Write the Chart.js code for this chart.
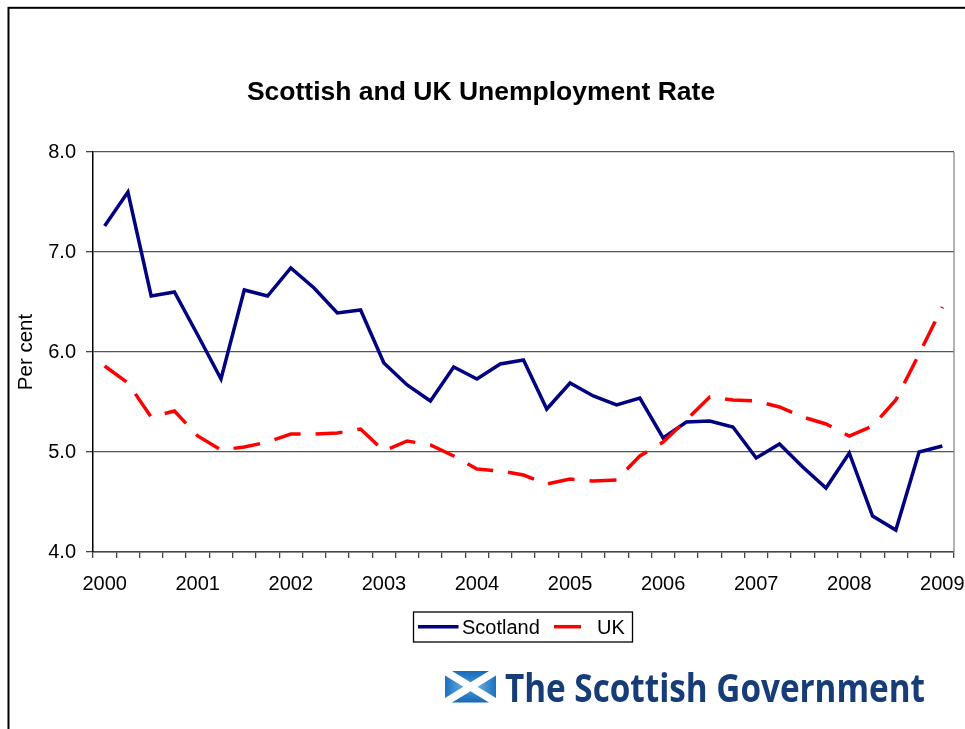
<!DOCTYPE html>
<html>
<head>
<meta charset="utf-8">
<title>Scottish and UK Unemployment Rate</title>
<script src="https://cdn.jsdelivr.net/npm/chart.js@4.4.1/dist/chart.umd.min.js"></script>
<style>
html, body { margin: 0; padding: 0; background: #fff; }
canvas { display: block; }
</style>
</head>
<body>
<canvas id="unemploymentChart" width="965" height="729"></canvas>
<script>
/* ==========================================
DATA (quarterly, 2000 Q1 - 2009 Q1)
========================================== */

const years = [
"2000", "2001", "2002", "2003", "2004",
"2005", "2006", "2007", "2008", "2009"
];

const quarters = [];
years.forEach(y => {
for (let q = 1; q <= 4; q++) {
if (y === "2009" && q > 1) break;
quarters.push(y + " Q" + q);
}
});

const scotland = [
7.26, 7.60, 6.56, 6.60, 6.17, 5.73, 6.62, 6.56,
6.84, 6.64, 6.39, 6.42, 5.89, 5.67, 5.51, 5.85,
5.73, 5.88, 5.92, 5.43, 5.69, 5.56, 5.47, 5.54,
5.14, 5.30, 5.31, 5.25, 4.94, 5.08, 4.85, 4.64,
4.99, 4.36, 4.22, 5.00, 5.06
];

const uk = [
5.86, 5.69, 5.35, 5.41, 5.16, 5.02, 5.05, 5.10,
5.18, 5.18, 5.19, 5.23, 5.01, 5.11, 5.07, 4.96,
4.83, 4.81, 4.77, 4.68, 4.73, 4.71, 4.72, 4.96,
5.10, 5.32, 5.55, 5.52, 5.51, 5.45, 5.35, 5.28,
5.16, 5.26, 5.52, 5.98, 6.45
];

const seriesNames = ["Scotland", "UK"];

const FONT = "'Liberation Sans', Arial, sans-serif";
const NAVY = "#000080";
const RED = "#ff0000";


/* ==========================================
EXTRA DRAWING: frame, title, legend, logo
========================================== */

function drawFlag(ctx, x, y, w, h){

ctx.save();

ctx.fillStyle = "#ffffff";
ctx.fillRect(x, y, w, h);

const cx = x + w / 2;
const cy = y + h / 2;

const tri = (pts, g0, g1, gx0, gy0, gx1, gy1) => {
const g = ctx.createLinearGradient(gx0, gy0, gx1, gy1);
g.addColorStop(0, g0);
g.addColorStop(1, g1);
ctx.fillStyle = g;
ctx.beginPath();
ctx.moveTo(pts[0], pts[1]);
ctx.lineTo(pts[2], pts[3]);
ctx.lineTo(pts[4], pts[5]);
ctx.closePath();
ctx.fill();
};

// top and bottom
tri([x + 7, y, x + w - 7, y, cx, cy - 4.5], "#1668b8", "#4f9ad8", cx, y, cx, cy);
tri([x + 7, y + h, x + w - 7, y + h, cx, cy + 4.5], "#1668b8", "#4f9ad8", cx, y + h, cx, cy);
// left and right
tri([x, y + 4.5, x, y + h - 4.5, cx - 7, cy], "#1a70c0", "#8cc0ea", x, cy, cx, cy);
tri([x + w, y + 4.5, x + w, y + h - 4.5, cx + 7, cy], "#1a70c0", "#8cc0ea", x + w, cy, cx, cy);

ctx.restore();

}

const decorPlugin = {

id: "decor",

beforeDraw(chart){
const ctx = chart.ctx;
ctx.save();
ctx.fillStyle = "#ffffff";
ctx.fillRect(0, 0, chart.width, chart.height);
ctx.restore();
},

afterDraw(chart){

const ctx = chart.ctx;
const area = chart.chartArea;

ctx.save();

// right edge of the plot area
ctx.strokeStyle = "#8a8a8a";
ctx.lineWidth = 1.3;
ctx.beginPath();
ctx.moveTo(area.right, area.top);
ctx.lineTo(area.right, area.bottom);
ctx.stroke();

// outer frame (runs off the right and bottom edges)
ctx.strokeStyle = "#000000";
ctx.lineWidth = 2;
ctx.strokeRect(8.5, 7.8, 1200, 1200);

// title
ctx.fillStyle = "#000000";
ctx.font = "bold 26.5px " + FONT;
ctx.textAlign = "center";
ctx.textBaseline = "alphabetic";
ctx.fillText("Scottish and UK Unemployment Rate", 481, 99.5);

// legend
ctx.strokeStyle = "#000000";
ctx.lineWidth = 1.3;
ctx.strokeRect(413.5, 612, 219, 30);

ctx.lineCap = "butt";
ctx.lineWidth = 3.5;
ctx.strokeStyle = NAVY;
ctx.beginPath();
ctx.moveTo(418, 626.7);
ctx.lineTo(458.5, 626.7);
ctx.stroke();

ctx.strokeStyle = RED;
ctx.beginPath();
ctx.moveTo(554, 626.7);
ctx.lineTo(581, 626.7);
ctx.stroke();

ctx.fillStyle = "#000000";
ctx.font = "20px " + FONT;
ctx.textAlign = "left";
ctx.fillText(seriesNames[0], 462, 634.3);
ctx.fillText(seriesNames[1], 597, 634.3);

// logo
drawFlag(ctx, 445, 671, 51, 31.5);

const logoText = "The Scottish Government";
ctx.font = "bold 39px 'Open Sans', 'Noto Sans', sans-serif";
const tw = ctx.measureText(logoText).width;
ctx.translate(505, 701.5);
ctx.scale(420 / tw, 1);
ctx.fillStyle = "#163d78";
ctx.fillText(logoText, 0, 0);

ctx.restore();

}

};


/* ==========================================
CHART
========================================== */

new Chart(
document.getElementById("unemploymentChart"),
{

type: "line",

data: {

labels: quarters,

datasets: [
{
label: seriesNames[0],
data: scotland,
borderColor: NAVY,
backgroundColor: NAVY,
borderWidth: 3.5,
order: 1
},
{
label: seriesNames[1],
data: uk,
borderColor: RED,
backgroundColor: RED,
borderWidth: 3.5,
borderDash: [27, 15],
borderCapStyle: "butt",
order: 0
}
]

},

options: {

responsive: false,
animation: false,
devicePixelRatio: 1,

layout: {
padding: { top: 152, right: 11, bottom: 0, left: 0 }
},

elements: {
point: { radius: 0, hoverRadius: 0 },
line: { tension: 0, fill: false }
},

plugins: {
legend: { display: false },
title: { display: false },
tooltip: { enabled: false }
},

scales: {

x: {
type: "category",
offset: true,
grid: {
display: true,
drawOnChartArea: false,
drawTicks: true,
tickLength: 6,
offset: true,
color: "#444444",
lineWidth: 1.3
},
border: { display: true, color: "#444444", width: 1.5 },
ticks: {
autoSkip: false,
maxRotation: 0,
minRotation: 0,
padding: 14,
color: "#000000",
font: { family: FONT, size: 20 },
callback: (value, index) =>
index % 4 === 0 ? years[index / 4] : ""
},
afterFit: scale => {
scale.height = 177;
scale.paddingLeft = 0;
scale.paddingRight = 0;
}
},

y: {
min: 4,
max: 8,
ticks: {
stepSize: 1,
padding: 10,
color: "#000000",
font: { family: FONT, size: 20 },
callback: value => value.toFixed(1)
},
grid: {
color: "#555555",
lineWidth: 1.3,
tickLength: 7,
tickColor: "#444444"
},
border: { display: true, color: "#000000", width: 1.5 },
title: {
display: true,
text: "Per cent",
color: "#000000",
font: { family: FONT, size: 20.5 },
padding: { top: 14, bottom: 0 }
},
afterFit: scale => {
scale.width = 93;
}
}

}

},

plugins: [decorPlugin]

}
);
</script>
</body>
</html>
